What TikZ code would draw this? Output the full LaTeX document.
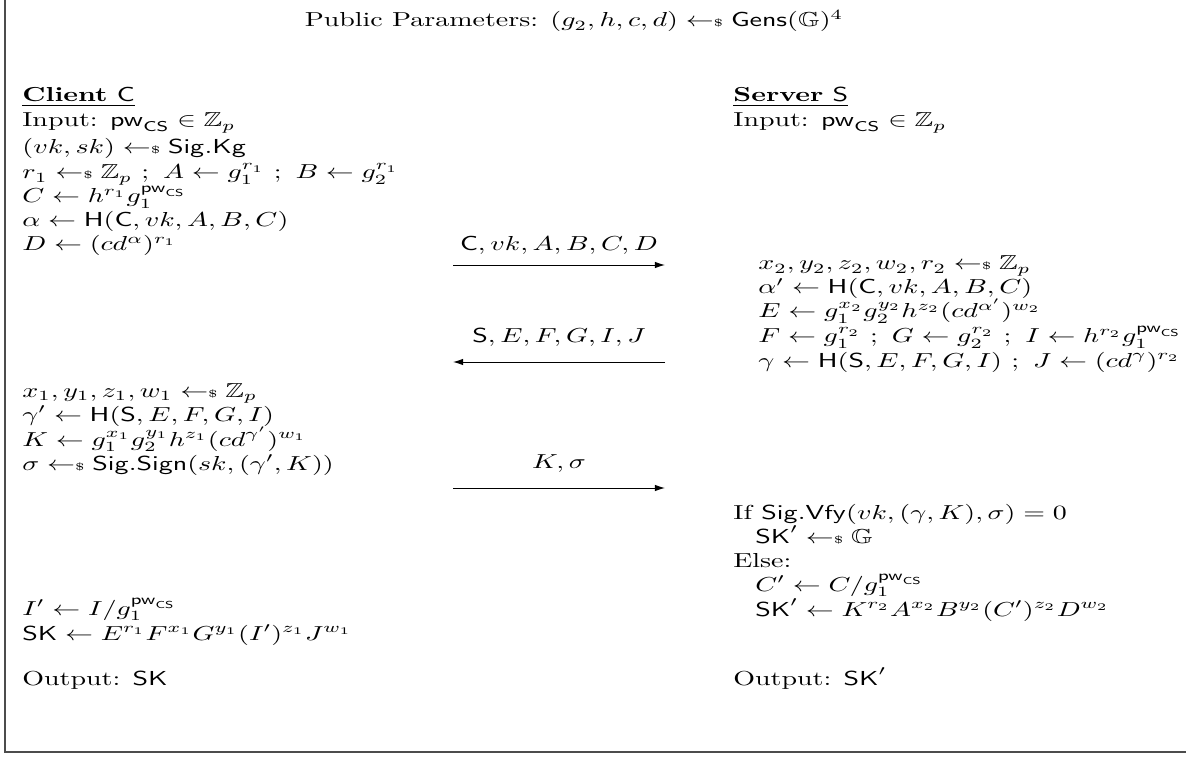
\documentclass[tikz,border=0pt]{standalone}
\usepackage{amsmath,amssymb}
\usetikzlibrary{arrows.meta}
\newcommand{\rnd}{\mathrel{{\leftarrow}{\scriptscriptstyle\$}}}
\newcommand{\pwcs}{\mathsf{pw}_{\mathsf{CS}}}
\newcommand{\sx}[1]{\scalebox{1.38}[1]{#1}}
\begin{document}
\begin{tikzpicture}[x=0.4938pt,y=-0.4938pt,
  ln/.style={anchor=base west,inner sep=0pt},
  lbl/.style={anchor=base,inner sep=0pt},
  msg/.style={-{Latex[length=5pt,width=3.2pt]},line width=0.45pt},
  frame/.style={line width=0.8pt,draw=black!70}]
\useasboundingbox (0,0) rectangle (1186,757);
\coordinate (ftl) at (5,0);
\coordinate (fbl) at (5,752);
\coordinate (fbr) at (1186,752);
\draw[frame] (ftl) -- (fbl) -- (fbr);
\node[lbl] (title) at (574,27) {\sx{Public Parameters: $(g_2,h,c,d)\rnd\mathsf{Gens}(\mathbb{G})^4$}};
% client
\node[ln] (cl) at (22,102) {\sx{\underline{\textbf{Client} $\mathsf{C}$}}};
\node[ln] (cin) at (22,127) {\sx{Input: $\pwcs\in\mathbb{Z}_p$}};
\node[ln] (c1) at (22,154) {\sx{$(vk,sk)\rnd\mathsf{Sig.Kg}$}};
\node[ln] (c2) at (22,179) {\sx{$r_1\rnd\mathbb{Z}_p\ ;\ A\leftarrow g_1^{r_1}\ ;\ B\leftarrow g_2^{r_1}$}};
\node[ln] (c3) at (22,203) {\sx{$C\leftarrow h^{r_1}g_1^{\pwcs}$}};
\node[ln] (c4) at (22,227) {\sx{$\alpha\leftarrow\mathsf{H}(\mathsf{C},vk,A,B,C)$}};
\node[ln] (c5) at (22,251) {\sx{$D\leftarrow(cd^{\alpha})^{r_1}$}};
\node[ln] (c6) at (22,397) {\sx{$x_1,y_1,z_1,w_1\rnd\mathbb{Z}_p$}};
\node[ln] (c7) at (22,421) {\sx{$\gamma'\leftarrow\mathsf{H}(\mathsf{S},E,F,G,I)$}};
\node[ln] (c8) at (22,446) {\sx{$K\leftarrow g_1^{x_1}g_2^{y_1}h^{z_1}(cd^{\gamma'})^{w_1}$}};
\node[ln] (c9) at (22,470) {\sx{$\sigma\rnd\mathsf{Sig.Sign}(sk,(\gamma',K))$}};
\node[ln] (c10) at (22,615) {\sx{$I'\leftarrow I/g_1^{\pwcs}$}};
\node[ln] (c11) at (22,640) {\sx{$\mathsf{SK}\leftarrow E^{r_1}F^{x_1}G^{y_1}(I')^{z_1}J^{w_1}$}};
\node[ln] (cout) at (22,685) {\sx{Output: $\mathsf{SK}$}};
% server
\node[ln] (sv) at (733,102) {\sx{\underline{\textbf{Server} $\mathsf{S}$}}};
\node[ln] (sin) at (733,127) {\sx{Input: $\pwcs\in\mathbb{Z}_p$}};
\node[ln] (s1) at (758,270) {\sx{$x_2,y_2,z_2,w_2,r_2\rnd\mathbb{Z}_p$}};
\node[ln] (s2) at (758,294) {\sx{$\alpha'\leftarrow\mathsf{H}(\mathsf{C},vk,A,B,C)$}};
\node[ln] (s3) at (758,318) {\sx{$E\leftarrow g_1^{x_2}g_2^{y_2}h^{z_2}(cd^{\alpha'})^{w_2}$}};
\node[ln] (s4) at (758,343) {\sx{$F\leftarrow g_1^{r_2}\ ;\ G\leftarrow g_2^{r_2}\ ;\ I\leftarrow h^{r_2}g_1^{\pwcs}$}};
\node[ln] (s5) at (758,367) {\sx{$\gamma\leftarrow\mathsf{H}(\mathsf{S},E,F,G,I)\ ;\ J\leftarrow(cd^{\gamma})^{r_2}$}};
\node[ln] (s6) at (733,519) {\sx{If $\mathsf{Sig.Vfy}(vk,(\gamma,K),\sigma)=0$}};
\node[ln] (s7) at (755,543) {\sx{$\mathsf{SK}'\rnd\mathbb{G}$}};
\node[ln] (s8) at (733,567) {\sx{Else:}};
\node[ln] (s9) at (755,591) {\sx{$C'\leftarrow C/g_1^{\pwcs}$}};
\node[ln] (s10) at (755,616) {\sx{$\mathsf{SK}'\leftarrow K^{r_2}A^{x_2}B^{y_2}(C')^{z_2}D^{w_2}$}};
\node[ln] (sout) at (733,685) {\sx{Output: $\mathsf{SK}'$}};
% messages
\coordinate (a1l) at (453,265);
\coordinate (a1r) at (665,265);
\draw[msg] (a1l) -- (a1r);
\node[lbl] (m1) at (559,251) {\sx{$\mathsf{C},vk,A,B,C,D$}};
\coordinate (a2l) at (453,362);
\coordinate (a2r) at (665,362);
\draw[msg] (a2r) -- (a2l);
\node[lbl] (m2) at (559,343) {\sx{$\mathsf{S},E,F,G,I,J$}};
\coordinate (a3l) at (453,488);
\coordinate (a3r) at (665,488);
\draw[msg] (a3l) -- (a3r);
\node[lbl] (m3) at (559,468) {\sx{$K,\sigma$}};
\end{tikzpicture}
\end{document}
